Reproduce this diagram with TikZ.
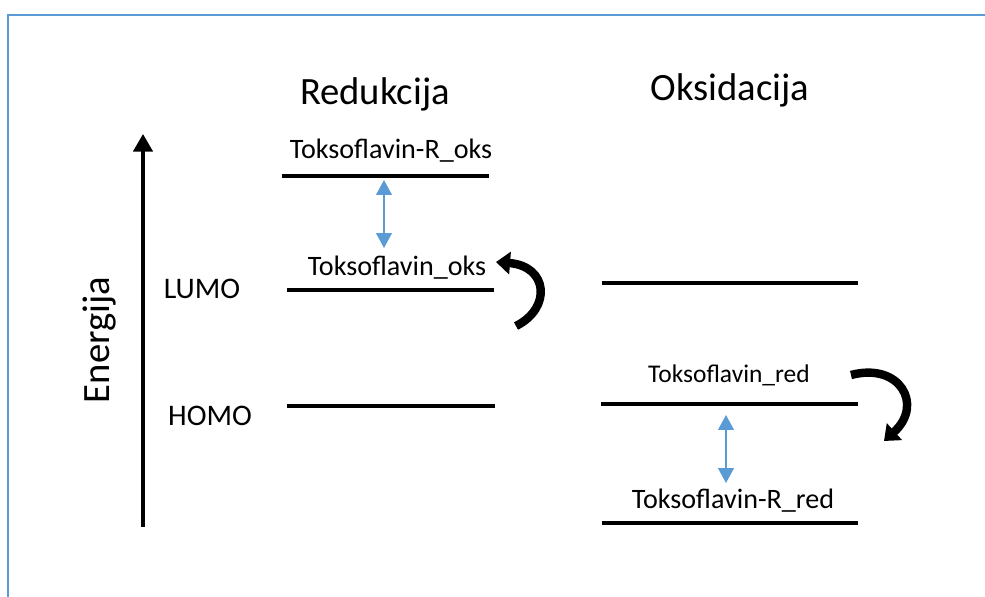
\documentclass[tikz,border=0pt]{standalone}
\usepackage{fontspec}
\setmainfont{Carlito}
\usepackage{xcolor}
\usetikzlibrary{arrows.meta, positioning, calc}

\definecolor{officeblue}{HTML}{5B9BD5}

\begin{document}
\begin{tikzpicture}[
  x=0.02cm, y=-0.02cm,
  level/.style={line width=2.4pt},
  lbl/.style={anchor=base, inner sep=0pt, font=\fontsize{16}{19}\selectfont},
  head/.style={anchor=base, inner sep=0pt, font=\fontsize{22}{26}\selectfont},
  orbital/.style={anchor=base, inner sep=0pt, font=\fontsize{17}{20}\selectfont},
  gap/.style={{Triangle[length=8.5pt,width=9pt]}-{Triangle[length=8.5pt,width=9pt]}, line width=0.9pt, draw=officeblue, fill=officeblue},
  turn/.style={-{Triangle[length=8pt,width=12.5pt]}, line width=4.8pt},
  axis/.style={-{Triangle[length=10pt,width=11pt]}, line width=1.9pt}
]
\useasboundingbox (0,0) rectangle (985,596);
\draw[officeblue, line width=1.3pt] (8,15) rectangle (1010,620);

% headings
\node[head] (red) at (375,104) {Redukcija};
\node[head] (oks) at (730,100) {Oksidacija};

% energy axis
\coordinate (ebot) at (143,527);
\coordinate (etop) at (143,134);
\draw[axis] (ebot) -- (etop);
\node[head, rotate=90] (energy) at (110,340) {Energija};
\node[orbital] (lumo) at (202,298) {LUMO};
\node[orbital] (homo) at (210,425) {HOMO};

% reduction levels
\coordinate (roksL) at (282,176); \coordinate (roksR) at (489,176);
\coordinate (toksL) at (287,290); \coordinate (toksR) at (494,290);
\coordinate (homoL) at (287,406); \coordinate (homoR) at (495,406);
\draw[level] (roksL) -- (roksR);
\draw[level] (toksL) -- (toksR);
\draw[level] (homoL) -- (homoR);
\node[lbl] (roks) at (391,158) {Toksoflavin-R\_oks};
\node[lbl] (toks) at (397,275) {Toksoflavin\_oks};

% oxidation levels
\coordinate (lumoL) at (602,283); \coordinate (lumoR) at (858,283);
\coordinate (tredL) at (601,404); \coordinate (tredR) at (858,404);
\coordinate (rredL) at (602,523); \coordinate (rredR) at (858,523);
\draw[level] (lumoL) -- (lumoR);
\draw[level] (tredL) -- (tredR);
\draw[level] (rredL) -- (rredR);
\node[lbl, font=\fontsize{14.5}{17}\selectfont] (tred) at (729,382) {Toksoflavin\_red};
\node[lbl] (rred) at (733,508) {Toksoflavin-R\_red};

% transitions
\coordinate (gapAtop) at (384,180); \coordinate (gapAbot) at (384,248);
\coordinate (gapBtop) at (726,415); \coordinate (gapBbot) at (726,483);
\draw[gap] (gapAtop) -- (gapAbot);
\draw[gap] (gapBtop) -- (gapBbot);

\coordinate (upS) at (516,326); \coordinate (upE) at (496,262);
\coordinate (dnS) at (851,375); \coordinate (dnE) at (884,441);
\draw[turn] (upS) .. controls (552,308) and (548,266) .. (upE);
\draw[turn] (dnS) .. controls (900,362) and (924,405) .. (dnE);
\end{tikzpicture}
\end{document}
